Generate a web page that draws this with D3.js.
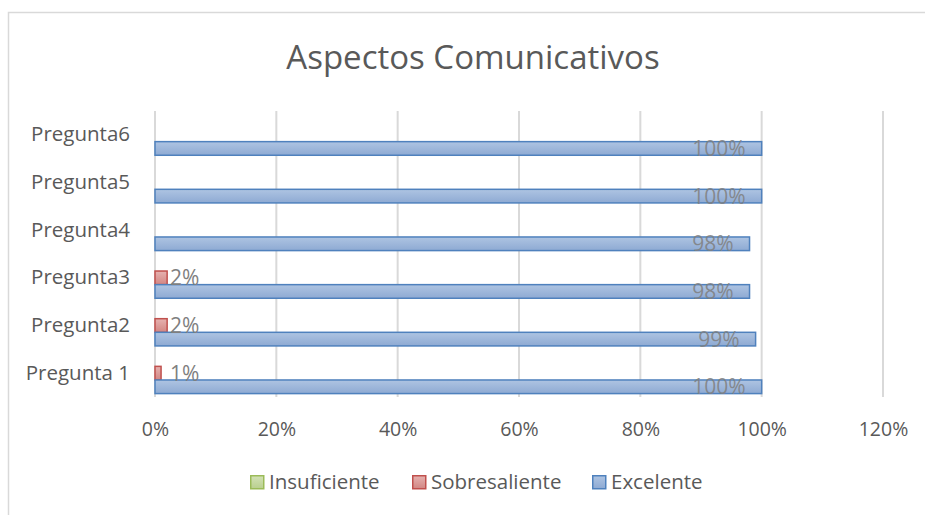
<!DOCTYPE html>
<html>
<head>
<meta charset="utf-8">
<script src="https://cdn.jsdelivr.net/npm/d3@7"></script>
<style>
  body { margin:0; background:#fff; }
  svg text { font-family: "Open Sans", sans-serif; }
</style>
</head>
<body>
<svg id="chart"></svg>
<script>
const width = 925, height = 515;
const font = '"Open Sans", sans-serif'

// data
const categories = ['Pregunta 1', 'Pregunta2', 'Pregunta3', 'Pregunta4', 'Pregunta5', 'Pregunta6']
const seriesNames = ['Insuficiente', 'Sobresaliente', 'Excelente']
const insuficiente = [null, null, null, null, null, null]
const sobresaliente = [0.01, 0.02, 0.02, null, null, null]
const excelente = [1.00, 0.99, 0.98, 0.98, 1.00, 1.00]
const xTicks = [0, 0.2, 0.4, 0.6, 0.8, 1.0, 1.2]

const colors = {
  Insuficiente: {fill: '#c3d69b', stroke: '#9bbb59'},
  Sobresaliente: {fill: '#d99694', stroke: '#c0504d'},
  Excelente: {fill: '#95b3d7', stroke: '#4f81bd'}
}
const values = {Insuficiente: insuficiente, Sobresaliente: sobresaliente, Excelente: excelente}

const svg = d3.select('#chart')
  .attr('width', width)
  .attr('height', height)

// gradients for the bars
const defs = svg.append('defs')
const grads = {
  Insuficiente: ['#d3e2b6', '#b9cf8e'],
  Sobresaliente: ['#e6b2b0', '#d28683'],
  Excelente: ['#aec4e2', '#8eaad3']
}
seriesNames.forEach(s => {
  const g = defs.append('linearGradient').attr('id', 'g_' + s)
    .attr('x1', 0).attr('y1', 0).attr('x2', 0).attr('y2', 1)
  g.append('stop').attr('offset', '0%').attr('stop-color', grads[s][0])
  g.append('stop').attr('offset', '100%').attr('stop-color', grads[s][1])
})

// outer chart border
svg.append('rect')
  .attr('x', 8.5).attr('y', 12.5)
  .attr('width', 930).attr('height', 520)
  .attr('fill', 'none').attr('stroke', '#d9d9d9').attr('stroke-width', 1.5)

svg.append('text')
  .attr('x', 473).attr('y', 69)
  .attr('text-anchor', 'middle')
  .attr('font-size', 33)
  .attr('fill', '#595959')
  .text('Aspectos Comunicativos')

const x = d3.scaleLinear().domain([0, 1.2]).range([155, 883])
const y = d3.scaleBand().domain(categories.slice().reverse()).range([111, 397]).padding(0)
const ySub = d3.scaleBand().domain(seriesNames).range([0, y.bandwidth()]).paddingInner(0).paddingOuter(0.25)

// grid
svg.append('g')
  .selectAll('line')
  .data(xTicks)
  .enter()
    .append('line')
    .attr('x1', d => x(d)).attr('x2', d => x(d))
    .attr('y1', 111).attr('y2', 397)
    .attr('stroke', '#d9d9d9').attr('stroke-width', 2)

// x axis labels
const xAxis = svg.append('g')
  .attr('transform', 'translate(0,419)')
  .call(d3.axisBottom(x).tickValues(xTicks).tickFormat(d3.format('.0%')).tickSize(0))
xAxis.select('.domain').remove()
xAxis.selectAll('text')
  .attr('font-size', 19.5).attr('fill', '#595959').attr('font-family', font)

// y axis labels
const yAxis = svg.append('g')
  .attr('transform', 'translate(133,0)')
  .call(d3.axisLeft(y).tickSize(0))
yAxis.select('.domain').remove()
yAxis.selectAll('text')
  .attr('font-size', 20.5).attr('fill', '#595959').attr('font-family', font)

// bars
seriesNames.forEach(s => {
  const rows = categories.map((c, i) => ({cat: c, v: values[s][i]})).filter(d => d.v !== null)
  svg.append('g')
    .selectAll('rect')
    .data(rows)
    .enter()
      .append('rect')
      .attr('x', x(0))
      .attr('y', d => y(d.cat) + ySub(s))
      .attr('width', d => x(d.v) - x(0))
      .attr('height', ySub.bandwidth())
      .attr('fill', 'url(#g_' + s + ')')
      .attr('stroke', colors[s].stroke)
      .attr('stroke-width', 1.5)
})

// data labels
const exRows = categories.map((c, i) => ({cat: c, v: excelente[i]}))
svg.append('g')
  .selectAll('text')
  .data(exRows)
  .enter()
    .append('text')
    .attr('x', d => x(d.v) - 16)
    .attr('y', d => y(d.cat) + ySub('Excelente') + ySub.bandwidth() / 2)
    .attr('dy', '0.36em')
    .attr('text-anchor', 'end')
    .attr('font-size', 21)
    .attr('fill', '#7f7f7f')
    .attr('fill-opacity', 0.85)
    .text(d => d3.format('.0%')(d.v))

const sbRows = categories.map((c, i) => ({cat: c, v: sobresaliente[i]})).filter(d => d.v !== null)
svg.append('g')
  .selectAll('text')
  .data(sbRows)
  .enter()
    .append('text')
    .attr('x', x(0) + 15)
    .attr('y', d => y(d.cat) + ySub('Sobresaliente') + ySub.bandwidth() / 2)
    .attr('dy', '0.36em')
    .attr('font-size', 21)
    .attr('fill', '#7f7f7f')
    .text(d => d3.format('.0%')(d.v))

// legend
const legendX = [250, 412, 592]
const legend = svg.append('g')
  .selectAll('g')
  .data(seriesNames)
  .enter()
    .append('g')
    .attr('transform', (d, i) => 'translate(' + legendX[i] + ',475)')
legend.append('rect')
  .attr('x', 0.75).attr('y', 0.75)
  .attr('width', 13).attr('height', 13)
  .attr('fill', d => 'url(#g_' + d + ')')
  .attr('stroke', d => colors[d].stroke).attr('stroke-width', 1.5)
legend.append('text')
  .attr('x', 19).attr('y', 7)
  .attr('dy', '0.36em')
  .attr('font-size', 20.5)
  .attr('fill', '#595959')
  .text(d => d)
</script>
</body>
</html>
